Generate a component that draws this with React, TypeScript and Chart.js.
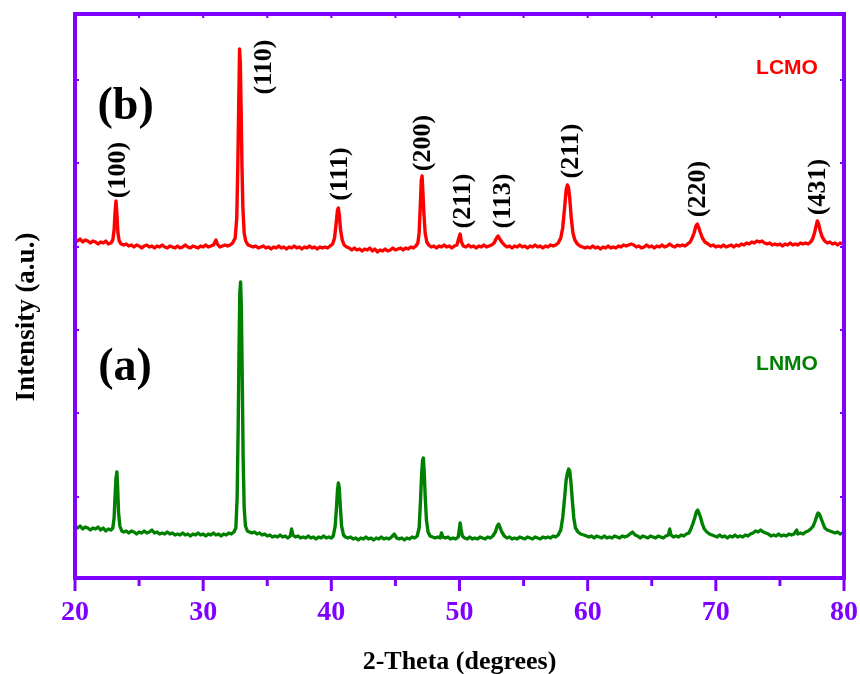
import React, { useEffect, useRef } from "react";
import { Chart, registerables } from "chart.js";

Chart.register(...registerables);

// ---------- data (2θ in degrees, intensity in a.u.) ----------
const X_MIN = 20;
const X_MAX = 80;
const Y_MIN = 0;
const Y_MAX = 564;
const X_MAJOR_TICKS = [20, 30, 40, 50, 60, 70, 80];
const X_MINOR_TICKS = [25, 35, 45, 55, 65, 75];
const Y_TICKS = [81, 165, 248, 331, 415, 498];

const LCMO: [number, number][] = [
  [20.0, 339], [20.2, 337], [20.4, 339], [20.6, 336], [20.8, 338], [21.0, 337], [21.2, 335], [21.4, 337], [21.6, 336], [21.8, 334],
  [22.0, 336], [22.2, 335], [22.4, 337], [22.6, 334], [22.8, 335], [22.95, 338], [23.05, 348], [23.12, 365], [23.2, 377], [23.28, 362],
  [23.35, 345], [23.45, 337], [23.6, 334], [23.8, 333], [24.0, 334], [24.2, 332], [24.4, 333], [24.6, 331], [24.8, 333], [25.0, 332],
  [25.2, 330], [25.4, 332], [25.6, 333], [25.8, 331], [26.0, 332], [26.2, 330], [26.4, 332], [26.6, 331], [26.8, 333], [27.0, 331],
  [27.2, 330], [27.4, 332], [27.6, 331], [27.8, 330], [28.0, 332], [28.2, 330], [28.4, 331], [28.6, 333], [28.8, 331], [29.0, 330],
  [29.2, 332], [29.4, 331], [29.6, 330], [29.8, 332], [30.0, 331], [30.2, 333], [30.4, 331], [30.6, 332], [30.8, 333], [31.0, 338],
  [31.1, 334], [31.3, 331], [31.5, 332], [31.7, 333], [31.9, 332], [32.1, 333], [32.3, 335], [32.5, 340], [32.62, 360], [32.7, 410],
  [32.77, 470], [32.84, 529], [32.9, 515], [32.96, 470], [33.03, 410], [33.1, 370], [33.2, 345], [33.32, 337], [33.5, 333], [33.7, 332],
  [33.9, 331], [34.1, 332], [34.3, 330], [34.5, 331], [34.7, 332], [34.9, 330], [35.1, 331], [35.3, 329], [35.5, 331], [35.7, 330],
  [35.9, 332], [36.1, 330], [36.3, 331], [36.5, 329], [36.7, 331], [36.9, 330], [37.1, 332], [37.3, 330], [37.5, 331], [37.7, 329],
  [37.9, 331], [38.1, 330], [38.3, 332], [38.5, 330], [38.7, 331], [38.9, 329], [39.1, 331], [39.3, 330], [39.5, 331], [39.7, 330],
  [39.9, 332], [40.1, 334], [40.25, 340], [40.38, 355], [40.48, 368], [40.55, 370], [40.63, 362], [40.72, 348], [40.85, 338], [41.0, 333],
  [41.2, 331], [41.4, 330], [41.6, 328], [41.8, 330], [42.0, 328], [42.2, 329], [42.4, 327], [42.6, 329], [42.8, 328], [43.0, 330],
  [43.2, 327], [43.4, 329], [43.6, 326], [43.8, 328], [44.0, 327], [44.2, 329], [44.4, 327], [44.6, 328], [44.8, 330], [45.0, 328],
  [45.2, 329], [45.4, 330], [45.6, 328], [45.8, 330], [46.0, 329], [46.2, 331], [46.4, 330], [46.6, 332], [46.75, 335], [46.85, 345],
  [46.95, 375], [47.02, 398], [47.08, 402], [47.15, 385], [47.22, 365], [47.32, 345], [47.45, 336], [47.6, 333], [47.8, 331], [48.0, 332],
  [48.2, 330], [48.4, 332], [48.6, 331], [48.8, 333], [49.0, 331], [49.2, 332], [49.4, 330], [49.6, 332], [49.8, 333], [49.95, 340],
  [50.05, 344], [50.15, 336], [50.3, 332], [50.5, 331], [50.7, 333], [50.9, 331], [51.1, 332], [51.3, 330], [51.5, 332], [51.7, 331],
  [51.9, 333], [52.1, 331], [52.3, 332], [52.5, 333], [52.7, 335], [52.85, 339], [53.0, 342], [53.15, 339], [53.3, 336], [53.5, 333],
  [53.7, 331], [53.9, 332], [54.1, 330], [54.3, 332], [54.5, 331], [54.7, 333], [54.9, 331], [55.1, 332], [55.3, 330], [55.5, 332],
  [55.7, 331], [55.9, 333], [56.1, 331], [56.3, 332], [56.5, 330], [56.7, 332], [56.9, 331], [57.1, 333], [57.3, 332], [57.5, 333],
  [57.7, 335], [57.9, 340], [58.05, 350], [58.2, 370], [58.32, 388], [58.42, 393], [58.5, 391], [58.6, 380], [58.72, 360], [58.85, 345],
  [59.0, 338], [59.2, 334], [59.4, 332], [59.6, 331], [59.8, 330], [60.0, 331], [60.2, 330], [60.4, 332], [60.6, 330], [60.8, 331],
  [61.0, 329], [61.2, 331], [61.4, 330], [61.6, 332], [61.8, 330], [62.0, 331], [62.2, 330], [62.4, 332], [62.6, 331], [62.8, 333],
  [63.0, 332], [63.2, 333], [63.4, 334], [63.6, 333], [63.8, 331], [64.0, 332], [64.2, 330], [64.4, 331], [64.6, 333], [64.8, 331],
  [65.0, 332], [65.2, 330], [65.4, 332], [65.6, 331], [65.8, 333], [66.0, 331], [66.2, 332], [66.4, 334], [66.6, 332], [66.8, 331],
  [67.0, 333], [67.2, 332], [67.4, 333], [67.6, 332], [67.8, 334], [68.0, 336], [68.15, 340], [68.3, 345], [68.45, 352], [68.55, 354],
  [68.65, 351], [68.78, 346], [68.95, 340], [69.15, 336], [69.4, 334], [69.6, 332], [69.8, 333], [70.0, 331], [70.2, 332], [70.4, 331],
  [70.6, 333], [70.8, 331], [71.0, 332], [71.2, 333], [71.4, 331], [71.6, 333], [71.8, 332], [72.0, 334], [72.2, 333], [72.4, 335],
  [72.6, 334], [72.8, 336], [73.0, 335], [73.2, 337], [73.4, 336], [73.6, 337], [73.8, 335], [74.0, 334], [74.2, 335], [74.4, 333],
  [74.6, 334], [74.8, 333], [75.0, 334], [75.2, 332], [75.4, 334], [75.6, 333], [75.8, 335], [76.0, 333], [76.2, 334], [76.4, 333],
  [76.6, 335], [76.8, 334], [77.0, 335], [77.2, 334], [77.4, 336], [77.55, 339], [77.7, 345], [77.82, 352], [77.92, 357], [78.02, 354],
  [78.15, 347], [78.3, 341], [78.5, 337], [78.7, 335], [78.9, 336], [79.1, 334], [79.3, 335], [79.5, 333], [79.7, 335], [79.9, 334],
  [80.0, 334],
];

const LNMO: [number, number][] = [
  [20.0, 52], [20.2, 50], [20.4, 52], [20.6, 49], [20.8, 51], [21.0, 50], [21.2, 48], [21.4, 50], [21.6, 49], [21.8, 51],
  [22.0, 48], [22.2, 50], [22.4, 47], [22.6, 49], [22.8, 48], [22.95, 50], [23.05, 60], [23.12, 80], [23.2, 100], [23.27, 106],
  [23.33, 90], [23.4, 65], [23.5, 52], [23.65, 47], [23.8, 46], [24.0, 47], [24.2, 45], [24.4, 47], [24.6, 46], [24.8, 44],
  [25.0, 46], [25.2, 45], [25.4, 47], [25.6, 45], [25.8, 46], [26.0, 48], [26.2, 45], [26.4, 46], [26.6, 44], [26.8, 45],
  [27.0, 44], [27.2, 46], [27.4, 44], [27.6, 45], [27.8, 43], [28.0, 44], [28.2, 43], [28.4, 45], [28.6, 43], [28.8, 44],
  [29.0, 42], [29.2, 44], [29.4, 43], [29.6, 45], [29.8, 43], [30.0, 44], [30.2, 42], [30.4, 44], [30.6, 43], [30.8, 45],
  [31.0, 43], [31.2, 44], [31.4, 42], [31.6, 44], [31.8, 43], [32.0, 45], [32.2, 44], [32.4, 46], [32.55, 50], [32.65, 80],
  [32.73, 150], [32.8, 230], [32.86, 285], [32.92, 296], [32.98, 270], [33.05, 200], [33.12, 120], [33.2, 70], [33.3, 52], [33.45, 47],
  [33.6, 46], [33.8, 45], [34.0, 46], [34.2, 44], [34.4, 45], [34.6, 43], [34.8, 44], [35.0, 42], [35.2, 43], [35.4, 41],
  [35.6, 42], [35.8, 41], [36.0, 43], [36.2, 41], [36.4, 42], [36.6, 40], [36.8, 42], [36.9, 49], [37.0, 43], [37.2, 41],
  [37.4, 42], [37.6, 40], [37.8, 41], [38.0, 40], [38.2, 42], [38.4, 40], [38.6, 41], [38.8, 39], [39.0, 41], [39.2, 40],
  [39.4, 42], [39.6, 40], [39.8, 41], [40.0, 40], [40.15, 42], [40.3, 52], [40.4, 70], [40.48, 88], [40.55, 95], [40.62, 90],
  [40.7, 72], [40.8, 52], [40.95, 43], [41.1, 41], [41.3, 40], [41.5, 41], [41.7, 39], [41.9, 40], [42.1, 38], [42.3, 40],
  [42.5, 39], [42.7, 41], [42.9, 39], [43.1, 40], [43.3, 38], [43.5, 40], [43.7, 39], [43.9, 41], [44.1, 39], [44.3, 40],
  [44.5, 39], [44.7, 41], [44.9, 44], [45.1, 40], [45.3, 39], [45.5, 40], [45.7, 38], [45.9, 40], [46.1, 39], [46.3, 41],
  [46.5, 40], [46.7, 42], [46.85, 50], [46.95, 75], [47.05, 105], [47.12, 118], [47.18, 120], [47.25, 105], [47.33, 80], [47.42, 58],
  [47.55, 46], [47.7, 42], [47.9, 41], [48.1, 40], [48.3, 41], [48.5, 40], [48.6, 45], [48.7, 41], [48.9, 40], [49.1, 41],
  [49.3, 39], [49.5, 40], [49.7, 39], [49.9, 41], [49.98, 48], [50.05, 55], [50.12, 49], [50.22, 42], [50.4, 40], [50.6, 39],
  [50.8, 41], [51.0, 39], [51.2, 40], [51.4, 39], [51.6, 41], [51.8, 40], [52.0, 39], [52.2, 41], [52.4, 40], [52.6, 42],
  [52.8, 46], [52.95, 52], [53.05, 54], [53.15, 51], [53.3, 46], [53.5, 42], [53.7, 40], [53.9, 41], [54.1, 39], [54.3, 40],
  [54.5, 39], [54.7, 41], [54.9, 40], [55.1, 39], [55.3, 41], [55.5, 40], [55.7, 39], [55.9, 41], [56.1, 40], [56.3, 39],
  [56.5, 41], [56.7, 40], [56.9, 41], [57.1, 40], [57.3, 42], [57.5, 41], [57.7, 43], [57.9, 48], [58.05, 60], [58.2, 80],
  [58.32, 98], [58.42, 105], [58.52, 109], [58.6, 107], [58.7, 95], [58.8, 78], [58.92, 60], [59.05, 50], [59.25, 46], [59.45, 44],
  [59.7, 43], [59.9, 42], [60.1, 41], [60.3, 42], [60.5, 40], [60.7, 42], [60.9, 41], [61.1, 40], [61.3, 42], [61.5, 40],
  [61.7, 41], [61.9, 40], [62.1, 42], [62.3, 41], [62.5, 40], [62.7, 42], [62.9, 41], [63.1, 42], [63.3, 44], [63.5, 46],
  [63.7, 43], [63.9, 42], [64.1, 40], [64.3, 42], [64.5, 41], [64.7, 40], [64.9, 42], [65.1, 41], [65.3, 40], [65.5, 42],
  [65.7, 41], [65.9, 40], [66.1, 42], [66.3, 43], [66.4, 49], [66.5, 43], [66.7, 41], [66.9, 42], [67.1, 41], [67.3, 43],
  [67.5, 42], [67.7, 44], [67.9, 45], [68.05, 49], [68.2, 54], [68.35, 60], [68.48, 66], [68.58, 68], [68.68, 65], [68.8, 61],
  [68.95, 54], [69.1, 49], [69.3, 46], [69.5, 44], [69.7, 43], [69.9, 42], [70.1, 41], [70.3, 43], [70.5, 41], [70.7, 42],
  [70.9, 40], [71.1, 42], [71.3, 41], [71.5, 43], [71.7, 41], [71.9, 42], [72.1, 41], [72.3, 43], [72.5, 42], [72.7, 44],
  [72.9, 45], [73.1, 47], [73.3, 46], [73.5, 48], [73.7, 46], [73.9, 45], [74.1, 44], [74.3, 42], [74.5, 43], [74.7, 42],
  [74.9, 44], [75.1, 42], [75.3, 43], [75.5, 42], [75.7, 44], [75.9, 43], [76.1, 44], [76.3, 48], [76.4, 44], [76.6, 45],
  [76.8, 44], [77.0, 46], [77.2, 47], [77.4, 49], [77.6, 52], [77.75, 57], [77.88, 62], [77.98, 65], [78.08, 64], [78.2, 60],
  [78.35, 55], [78.5, 50], [78.7, 48], [78.9, 47], [79.1, 46], [79.3, 45], [79.5, 46], [79.7, 44], [79.9, 45], [80.0, 44],
];

// Miller-index labels: text, 2θ position, intensity position
const PEAK_LABELS = ["(100)", "(110)", "(111)", "(200)", "(211)", "(113)", "(211)", "(220)", "(431)"];
const PEAK_LABEL_THETA = [23.28, 34.67, 40.6, 47.07, 50.19, 53.32, 58.62, 68.53, 77.89];
const PEAK_LABEL_Y = [408, 511, 404, 435, 377, 377, 427, 389, 391];

const SERIES_NAMES = ["LCMO", "LNMO"];
const SERIES_COLORS = ["#ff0000", "#008000"];
const SERIES_NAME_POS: [number, number][] = [[75.55, 510], [75.55, 214]];
const PANEL_TAGS = ["(b)", "(a)"];
const PANEL_TAG_POS: [number, number][] = [[23.95, 471], [23.9, 210]];

const X_TITLE = "2-Theta (degrees)";
const Y_TITLE = "Intensity (a.u.)";

const PURPLE = "#8000ff";
const SERIF = '"Liberation Serif", "Times New Roman", serif';
const SANS = '"Liberation Sans", Arial, sans-serif';

const framePlugin = {
  id: "xrdFrame",
  afterDatasetsDraw(chart: any) {
    const { ctx, chartArea: a, scales } = chart;
    const xs = scales.x;
    const ys = scales.y;
    ctx.save();

    // frame
    ctx.strokeStyle = PURPLE;
    ctx.lineWidth = 4;
    ctx.strokeRect(a.left, a.top, a.right - a.left, a.bottom - a.top);

    // bottom ticks (outward)
    ctx.lineWidth = 3;
    ctx.lineCap = "butt";
    for (const v of X_MAJOR_TICKS) {
      const px = xs.getPixelForValue(v);
      ctx.beginPath();
      ctx.moveTo(px, a.bottom);
      ctx.lineTo(px, a.bottom + 13);
      ctx.stroke();
    }
    for (const v of X_MINOR_TICKS) {
      const px = xs.getPixelForValue(v);
      ctx.beginPath();
      ctx.moveTo(px, a.bottom);
      ctx.lineTo(px, a.bottom + 8);
      ctx.stroke();
    }
    // top ticks (inward, small)
    ctx.lineWidth = 2;
    for (const v of [...X_MAJOR_TICKS, ...X_MINOR_TICKS]) {
      const px = xs.getPixelForValue(v);
      ctx.beginPath();
      ctx.moveTo(px, a.top);
      ctx.lineTo(px, a.top + 4);
      ctx.stroke();
    }
    // left/right ticks (inward, small)
    for (const v of Y_TICKS) {
      const py = ys.getPixelForValue(v);
      ctx.beginPath();
      ctx.moveTo(a.left, py);
      ctx.lineTo(a.left + 4, py);
      ctx.moveTo(a.right, py);
      ctx.lineTo(a.right - 4, py);
      ctx.stroke();
    }

    // x tick labels
    ctx.fillStyle = PURPLE;
    ctx.font = `bold 28px ${SERIF}`;
    ctx.textAlign = "center";
    ctx.textBaseline = "alphabetic";
    for (const v of X_MAJOR_TICKS) {
      ctx.fillText(String(v), xs.getPixelForValue(v), 620);
    }

    // axis titles
    ctx.fillStyle = "#000";
    ctx.font = `bold 26px ${SERIF}`;
    ctx.fillText(X_TITLE, (a.left + a.right) / 2, 669);
    ctx.save();
    ctx.translate(34, 317);
    ctx.rotate(-Math.PI / 2);
    ctx.font = `bold 27px ${SERIF}`;
    ctx.fillText(Y_TITLE, 0, 0);
    ctx.restore();

    // peak labels (rotated)
    ctx.font = `bold 26px ${SERIF}`;
    ctx.textBaseline = "middle";
    PEAK_LABELS.forEach((t, i) => {
      ctx.save();
      ctx.translate(xs.getPixelForValue(PEAK_LABEL_THETA[i]) + 1, ys.getPixelForValue(PEAK_LABEL_Y[i]));
      ctx.rotate(-Math.PI / 2);
      ctx.fillText(t, 0, 0);
      ctx.restore();
    });

    // panel tags
    ctx.font = `bold 46px ${SERIF}`;
    PANEL_TAGS.forEach((t, i) => {
      ctx.fillText(t, xs.getPixelForValue(PANEL_TAG_POS[i][0]), ys.getPixelForValue(PANEL_TAG_POS[i][1]));
    });

    // series names
    ctx.font = `bold 21px ${SANS}`;
    SERIES_NAMES.forEach((t, i) => {
      ctx.fillStyle = SERIES_COLORS[i];
      ctx.fillText(t, xs.getPixelForValue(SERIES_NAME_POS[i][0]), ys.getPixelForValue(SERIES_NAME_POS[i][1]));
    });

    ctx.restore();
  },
};

export default function App() {
  const ref = useRef<HTMLCanvasElement>(null);
  useEffect(() => {
    const canvas = ref.current;
    if (!canvas) return;
    const lineStyle = {
      borderWidth: 3.4,
      borderJoinStyle: "round",
      borderCapStyle: "round",
      pointRadius: 0,
      tension: 0.001,
      fill: false,
    };
    const chart = new Chart(canvas, {
      type: "line",
      data: {
        datasets: [
          {
            label: SERIES_NAMES[0],
            data: LCMO.map(([x, y]) => ({ x, y })),
            borderColor: SERIES_COLORS[0],
            ...lineStyle,
          },
          {
            label: SERIES_NAMES[1],
            data: LNMO.map(([x, y]) => ({ x, y })),
            borderColor: SERIES_COLORS[1],
            ...lineStyle,
          },
        ],
      },
      options: {
        responsive: false,
        animation: false,
        devicePixelRatio: 1,
        events: [],
        layout: { padding: { left: 75, right: 16, top: 14, bottom: 96 } },
        plugins: { legend: { display: false }, tooltip: { enabled: false } },
        scales: {
          x: { type: "linear", min: X_MIN, max: X_MAX, display: false },
          y: { type: "linear", min: Y_MIN, max: Y_MAX, display: false },
        },
      },
      plugins: [framePlugin],
    } as any);
    return () => chart.destroy();
  }, []);
  return (
    <div style={{ position: "fixed", left: 0, top: 0, width: 860, height: 674, background: "#fff" }}>
      <canvas ref={ref} width={860} height={674} style={{ display: "block", width: 860, height: 674 }} />
    </div>
  );
}
